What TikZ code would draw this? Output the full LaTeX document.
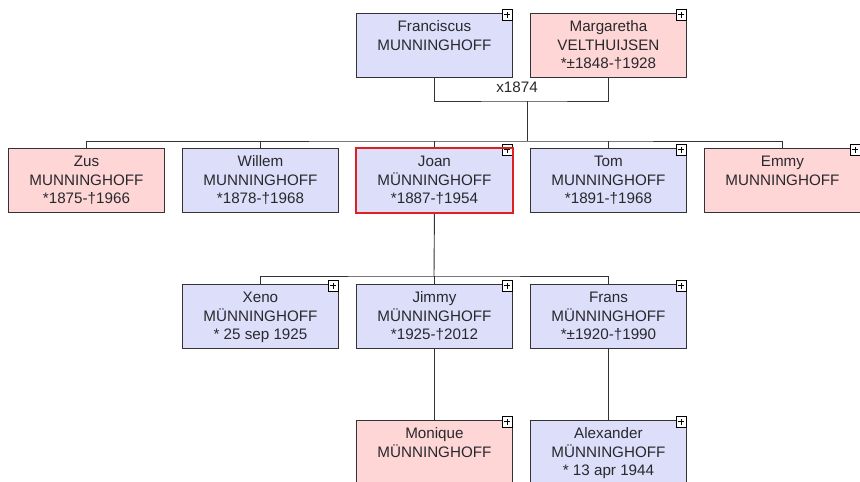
\documentclass[tikz,border=0pt]{standalone}
\usepackage{fontspec}
\setmainfont{Liberation Sans}
\definecolor{mfill}{RGB}{221,222,250}
\definecolor{ffill}{RGB}{255,214,214}
\definecolor{boxline}{RGB}{50,50,55}
\definecolor{txtcol}{RGB}{40,40,45}
\definecolor{jred}{RGB}{222,32,32}
\newcommand\mkplus[1]{%
  \node[plusicon] (#1p) at ([yshift=4pt]#1.north east) {};
  \draw[line width=1.1pt] ([xshift=-3.2pt]#1p.center) -- ([xshift=3.2pt]#1p.center)
                        ([yshift=-3.2pt]#1p.center) -- ([yshift=3.2pt]#1p.center);}
\begin{document}
\begin{tikzpicture}[x=1pt,y=-1pt,
  person/.style={draw=boxline, line width=0.9pt, minimum width=156pt, minimum height=64pt, inner sep=0pt, anchor=north west},
  male/.style={person, fill=mfill},
  female/.style={person, fill=ffill},
  txt/.style={anchor=north, align=center, inner sep=0pt, text=txtcol, font=\fontsize{15.2}{18.2}\selectfont, yshift=-6pt},
  plusicon/.style={draw=black, fill=white, line width=0.9pt, minimum size=10.5pt, inner sep=0pt, anchor=north east},
  conn/.style={draw=boxline, line width=0.9pt}
]
\useasboundingbox (0,0) rectangle (860,482);
\fill[white] (0,0) rectangle (860,482);
\clip (0,0) rectangle (860,482);

% connector junctions
\coordinate (mbar) at (527,101);
\coordinate (sbar) at (527,141);
\coordinate (cbar) at (434,276);

% boxes
\node[male]   (fra) at (356,13)  {};
\node[female] (mar) at (530,13)  {};
\node[female] (zus) at (8,148)   {};
\node[male]   (wil) at (182,148) {};
\node[male]   (joa) at (356,148) {};
\node[male]   (tom) at (530,148) {};
\node[female] (emm) at (704,148) {};
\node[male]   (xen) at (182,284) {};
\node[male]   (jim) at (356,284) {};
\node[male]   (frn) at (530,284) {};
\node[female] (mon) at (356,420) {};
\node[male]   (ale) at (530,420) {};

\draw[conn] (fra.south) |- (mbar) -| (mar.south);
\draw[conn] (mbar) -- (sbar);
\draw[conn] (zus.north) |- (sbar) -| (emm.north);
\draw[conn] (wil.north) -- (wil.north |- sbar);
\draw[conn] (joa.north) -- (joa.north |- sbar);
\draw[conn] (tom.north) -- (tom.north |- sbar);
\draw[conn] (joa.south) -- (cbar);
\draw[conn] (xen.north) |- (cbar) -| (frn.north);
\draw[conn] (jim.north) -- (jim.north |- cbar);
\draw[conn] (jim.south) -- (mon.north);
\draw[conn] (frn.south) -- (ale.north);

\node[txt] (mlab) at (517,76) {x1874};

% texts
\node[txt] (frat) at (fra.north) {\strut Franciscus\\MUNNINGHOFF};
\node[txt] (mart) at (mar.north) {\strut Margaretha\\VELTHUIJSEN\\*±1848-†1928};
\node[txt] (zust) at (zus.north) {\strut Zus\\MUNNINGHOFF\\*1875-†1966};
\node[txt] (wilt) at (wil.north) {\strut Willem\\MUNNINGHOFF\\*1878-†1968};
\node[txt] (joat) at (joa.north) {\strut Joan\\MÜNNINGHOFF\\*1887-†1954};
\node[txt] (tomt) at (tom.north) {\strut Tom\\MUNNINGHOFF\\*1891-†1968};
\node[txt] (emmt) at (emm.north) {\strut Emmy\\MUNNINGHOFF};
\node[txt] (xent) at (xen.north) {\strut Xeno\\MÜNNINGHOFF\\* 25 sep 1925};
\node[txt] (jimt) at (jim.north) {\strut Jimmy\\MÜNNINGHOFF\\*1925-†2012};
\node[txt] (frnt) at (frn.north) {\strut Frans\\MÜNNINGHOFF\\*±1920-†1990};
\node[txt] (mont) at (mon.north) {\strut Monique\\MÜNNINGHOFF};
\node[txt] (alet) at (ale.north) {\strut Alexander\\MÜNNINGHOFF\\* 13 apr 1944};

% plus icons
\mkplus{fra}\mkplus{mar}\mkplus{joa}\mkplus{tom}\mkplus{emm}
\mkplus{xen}\mkplus{jim}\mkplus{frn}\mkplus{mon}\mkplus{ale}

% selected person border
\draw[jred, line width=2.4pt] (joa.north west) rectangle (joa.south east);
\end{tikzpicture}
\end{document}
